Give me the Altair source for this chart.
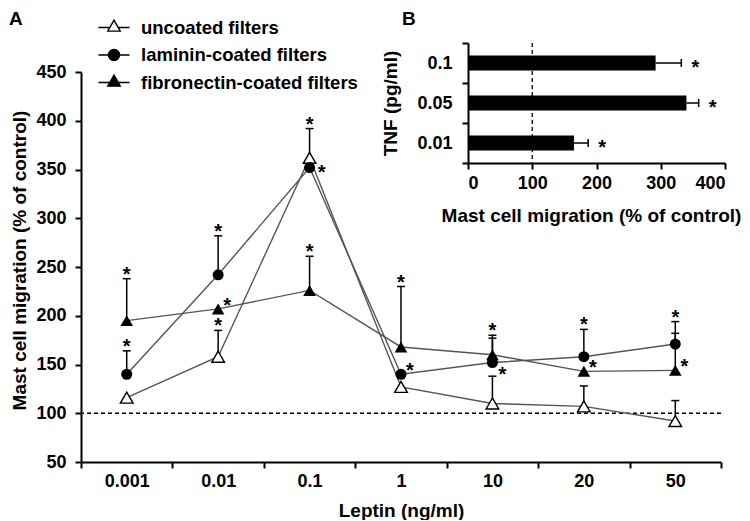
import altair as alt
import pandas as pd

# ---------------- data ----------------
doses = ["0.001", "0.01", "0.1", "1", "10", "20", "50"]
series_names = ["uncoated filters", "laminin-coated filters", "fibronectin-coated filters"]

uncoated = [116, 158, 362, 127, 110, 107, 92]
uncoated_err = [None, 27, 30, None, 28, 21, 21]
uncoated_star = [None, "top", "top", None, None, None, None]

laminin = [140, 242, 352, 140, 152, 158, 171]
laminin_err = [24, 40, None, None, 25, 28, 23]
laminin_star = ["top", "top", "e", "ne", "se", "top", "top"]

fibronectin = [195, 207, 226, 168, 160, 143, 144]
fibronectin_err = [43, None, 35, 62, 20, None, 38]
fibronectin_star = ["top", "ne", "top", "top", "top", "ne", "ne"]

y_ticks = [50, 100, 150, 200, 250, 300, 350, 400, 450]
control_level = 100

tnf_doses = ["0.1", "0.05", "0.01"]
tnf_migration = [292, 340, 165]
tnf_err = [40, 19, 22]
tnf_ticks = [0, 100, 200, 300, 400]

panel_labels = ["A", "B"]

FONT = "Liberation Sans"

# ---------------- tables ----------------
rows = []
for name, means, errs, stars in [
    (series_names[0], uncoated, uncoated_err, uncoated_star),
    (series_names[1], laminin, laminin_err, laminin_star),
    (series_names[2], fibronectin, fibronectin_err, fibronectin_star),
]:
    for i, (d, m, e, s) in enumerate(zip(doses, means, errs, stars)):
        rows.append({"series": name, "dose": d, "idx": i, "value": m,
                     "err": e, "star": s})
df = pd.DataFrame(rows)
df["top"] = df["value"] + df["err"].fillna(0)

err_df = df[df["err"].notna()][["dose", "value", "top"]]
cap_df = pd.DataFrame({"dose": err_df["dose"], "value": err_df["top"]})
star_df = df[df["star"].notna()].copy()
star_df["value"] = star_df.apply(
    lambda r: r["top"] if r["star"] == "top" else r["value"], axis=1)
star_df = star_df[["dose", "value", "star"]]
star_df["t"] = "*"

# ---------------- main panel ----------------
x_enc = alt.X(
    "dose:N",
    scale=alt.Scale(type="band", domain=doses, paddingInner=0, paddingOuter=0),
    axis=alt.Axis(title="Leptin (ng/ml)", labelAngle=0, tickBand="extent",
                  labelFontSize=18, labelPadding=4, titleFontSize=19,
                  titlePadding=11),
)
y_enc = alt.Y(
    "value:Q",
    scale=alt.Scale(domain=[50, 450], nice=False, zero=False),
    axis=alt.Axis(title="Mast cell migration (% of control)", values=y_ticks,
                  labelFontSize=18, labelPadding=9, titleFontSize=19,
                  titleX=-52, titleY=188),
)

lines = alt.Chart(df).mark_line(color="#555555", strokeWidth=1.4).encode(
    x=x_enc, y=y_enc, detail="series:N", order="idx:Q")
err_rules = alt.Chart(err_df).mark_rule(color="black", strokeWidth=1.5).encode(
    x=x_enc, y=y_enc, y2="top:Q")
err_caps = alt.Chart(cap_df).mark_tick(color="black", size=8, thickness=1.5,
                                       opacity=1).encode(x=x_enc, y=y_enc)

pts_unc = alt.Chart(df).transform_filter(
    alt.datum.series == series_names[0]).mark_point(
    shape="triangle-up", size=160, fill="white", stroke="black",
    strokeWidth=1.4, opacity=1).encode(x=x_enc, y=y_enc)
pts_lam = alt.Chart(df).transform_filter(
    alt.datum.series == series_names[1]).mark_point(
    shape="circle", size=121, filled=True, color="black",
    opacity=1).encode(x=x_enc, y=y_enc)
pts_fib = alt.Chart(df).transform_filter(
    alt.datum.series == series_names[2]).mark_point(
    shape="triangle-up", size=160, filled=True, color="black",
    opacity=1).encode(x=x_enc, y=y_enc)

star_offsets = {"top": (0, 2), "e": (12, 11), "ne": (9, 3), "se": (10, 18)}
star_layers = []
for cls, (ddx, ddy) in star_offsets.items():
    star_layers.append(
        alt.Chart(star_df).transform_filter(alt.datum.star == cls).mark_text(
            font=FONT, fontSize=20, fontWeight="bold", color="black",
            align="center", baseline="alphabetic", dx=ddx, dy=ddy
        ).encode(x=x_enc, y=y_enc, text="t:N")
    )

control_rule = alt.Chart(pd.DataFrame({"value": [control_level]})).mark_rule(
    color="black", strokeWidth=1.5, strokeDash=[4, 3]).encode(y=y_enc)

main = alt.layer(control_rule, lines, err_rules, err_caps, pts_unc, pts_lam,
                 pts_fib, *star_layers)

# ---------------- inset B ----------------
tnf_df = pd.DataFrame({"tnf": tnf_doses, "tnf_val": tnf_migration,
                       "tnf_top": [m + e for m, e in zip(tnf_migration, tnf_err)]})
tnf_cap_df = pd.DataFrame({"tnf": tnf_doses, "tnf_val": tnf_df["tnf_top"],
                           "t": ["*"] * len(tnf_doses)})

xi_enc = alt.X(
    "tnf_val:Q",
    scale=alt.Scale(domain=[0, 400], range=[387, 644], nice=False, zero=True),
    axis=alt.Axis(orient="bottom", offset=-299, values=tnf_ticks,
                  title="Mast cell migration (% of control)",
                  labelFontSize=18, labelPadding=5, titleFontSize=19,
                  titlePadding=14, titleX=510),
)
yi_enc = alt.Y(
    "tnf:N",
    scale=alt.Scale(type="band", domain=tnf_doses, range=[-29, 91],
                    paddingInner=0, paddingOuter=0),
    axis=alt.Axis(orient="left", offset=-387, tickBand="extent",
                  title="TNF (pg/ml)", labelFontSize=18, labelPadding=10,
                  titleFontSize=19, titlePadding=16),
)

bars = alt.Chart(tnf_df).mark_bar(size=15, color="black").encode(
    x=xi_enc, y=yi_enc)
tnf_rules = alt.Chart(tnf_df).mark_rule(color="black", strokeWidth=1.5).encode(
    x=xi_enc, x2="tnf_top:Q", y=yi_enc)
tnf_caps = alt.Chart(tnf_cap_df).mark_tick(color="black", size=8, thickness=1.5,
                                           opacity=1).encode(x=xi_enc, y=yi_enc)
tnf_stars = alt.Chart(tnf_cap_df).mark_text(
    font=FONT, fontSize=20, fontWeight="bold", color="black", align="center",
    baseline="alphabetic", dx=14, dy=11).encode(x=xi_enc, y=yi_enc, text="t:N")
tnf_dash = alt.Chart(pd.DataFrame({"tnf_val": [control_level]})).mark_rule(
    color="black", strokeWidth=1.3, strokeDash=[4, 3]).encode(
    x=xi_enc, y=alt.value(-29), y2=alt.value(91))

inset = alt.layer(tnf_dash, bars, tnf_rules, tnf_caps, tnf_stars)

# ---------------- legend ----------------
shape_paths = [
    "M-1.07,0H-0.29M0.29,0H1.07M0,-0.51L0.43,0.25L-0.43,0.25Z",
    "M-1.07,0H1.07M0.38,0A0.38,0.38 0 1,1 -0.38,0A0.38,0.38 0 1,1 0.38,0Z",
    "M-1.07,0H1.07M0,-0.51L0.43,0.25L-0.43,0.25Z",
]
leg = alt.Legend(title=None, orient="none", legendX=17.5, legendY=-60,
                 padding=0, offset=0, symbolSize=841, symbolStrokeWidth=1.4,
                 symbolStrokeColor="black", labelFont=FONT, labelFontSize=18.5,
                 labelFontWeight="bold", labelColor="black", labelOffset=11.5,
                 labelLimit=400, rowPadding=2.5)
legend_layer = alt.Chart(pd.DataFrame({"series": series_names})).mark_point(
    filled=True, strokeWidth=1.4, opacity=1).encode(
    x=alt.value(-3000), y=alt.value(-3000),
    shape=alt.Shape("series:N", scale=alt.Scale(domain=series_names,
                                                range=shape_paths), legend=leg),
    fill=alt.Fill("series:N", scale=alt.Scale(domain=series_names,
                                              range=["white", "black", "black"]),
                  legend=leg),
    stroke=alt.Stroke("series:N", scale=alt.Scale(domain=series_names,
                                                  range=["black", "black", "black"]),
                      legend=leg),
)

# ---------------- panel letters ----------------
lab_a = alt.Chart(pd.DataFrame({"t": [panel_labels[0]]})).mark_text(
    font=FONT, fontSize=19, fontWeight="bold", color="black", align="left",
    baseline="alphabetic").encode(text="t:N", x=alt.value(-72), y=alt.value(-47))
lab_b = alt.Chart(pd.DataFrame({"t": [panel_labels[1]]})).mark_text(
    font=FONT, fontSize=19, fontWeight="bold", color="black", align="left",
    baseline="alphabetic").encode(text="t:N", x=alt.value(321), y=alt.value(-47))

chart = alt.layer(main, inset, legend_layer, lab_a, lab_b).resolve_scale(
    x="independent", y="independent"
).properties(
    width=640, height=390,
    padding={"left": 73, "top": 64, "right": 21, "bottom": 58},
    autosize=alt.AutoSizeParams(type="none"),
).configure_view(stroke=None).configure_axis(
    domainColor="black", domainWidth=2, tickColor="black", tickWidth=2,
    tickSize=6, labelColor="black", titleColor="black", labelFont=FONT,
    titleFont=FONT, labelFontWeight="bold", titleFontWeight="bold", grid=False,
)

chart.save("out.html", embed_options={"renderer": "svg", "actions": False})
